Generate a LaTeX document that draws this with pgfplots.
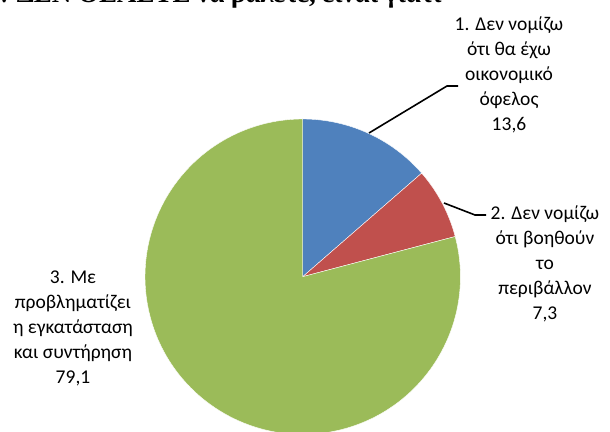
\documentclass[border=0pt]{standalone}
\usepackage{fontspec}
\setmainfont{Carlito}
\newfontfamily\titlefont{Liberation Serif}
\usepackage{pgfplots}
\usepackage{pgfplotstable}
\pgfplotsset{compat=1.18}
\definecolor{cA}{HTML}{4F81BD}
\definecolor{cB}{HTML}{C0504D}
\definecolor{cC}{HTML}{9BBB59}
\pgfplotstableread{
value
13.6
7.3
79.1
}\piedata
\begin{document}
\begin{tikzpicture}
\pgfplotstablegetelem{0}{value}\of\piedata \let\va\pgfplotsretval
\pgfplotstablegetelem{1}{value}\of\piedata \let\vb\pgfplotsretval
\pgfplotstablegetelem{2}{value}\of\piedata \let\vc\pgfplotsretval
\pgfmathsetmacro\aA{90-3.6*\va}
\pgfmathsetmacro\aB{\aA-3.6*\vb}
\pgfmathsetmacro\aC{\aB-3.6*\vc}
\begin{axis}[name=ax, hide axis, scale only axis, width=610pt, height=431pt,
  xmin=0, xmax=610, ymin=-431, ymax=0, clip=true]
\fill[cA, draw=white, line width=0.4pt] (axis cs:302.7,-276.7) -- ++(90:157.7pt) arc[start angle=90, end angle=\aA, radius=157.7pt] -- cycle;
\fill[cB, draw=white, line width=0.4pt] (axis cs:302.7,-276.7) -- ++(\aA:157.7pt) arc[start angle=\aA, end angle=\aB, radius=157.7pt] -- cycle;
\fill[cC, draw=white, line width=0.4pt] (axis cs:302.7,-276.7) -- ++(\aB:157.7pt) arc[start angle=\aB, end angle=\aC, radius=157.7pt] -- cycle;
\draw[black, line width=1.6pt] (axis cs:369,-133) -- (axis cs:447,-86) -- (axis cs:458,-86);
\draw[black, line width=1.6pt] (axis cs:444,-203) -- (axis cs:475,-215) -- (axis cs:486,-215);
\node[align=center, font=\fontsize{19.5}{25}\selectfont] at (axis cs:509,-75) {1. Δεν νομίζω\\ότι θα έχω\\οικονομικό\\όφελος\\13,6};
\node[align=center, font=\fontsize{19.5}{25}\selectfont] at (axis cs:545,-264) {2. Δεν νομίζω\\ότι βοηθούν\\το\\περιβάλλον\\7,3};
\node[align=center, font=\fontsize{19.5}{25}\selectfont] at (axis cs:73,-328) {3. Με\\προβληματίζει\\η εγκατάσταση\\και συντήρηση\\79,1};
\node[anchor=base east, font=\titlefont\bfseries\fontsize{27}{30}\selectfont, inner sep=0pt] at (axis cs:442,-3) {Αν ΔΕΝ ΘΕΛΕΤΕ να βάλετε, είναι γιατί};
\end{axis}
\pgfresetboundingbox
\path (ax.south west) rectangle (ax.north east);
\end{tikzpicture}
\end{document}
